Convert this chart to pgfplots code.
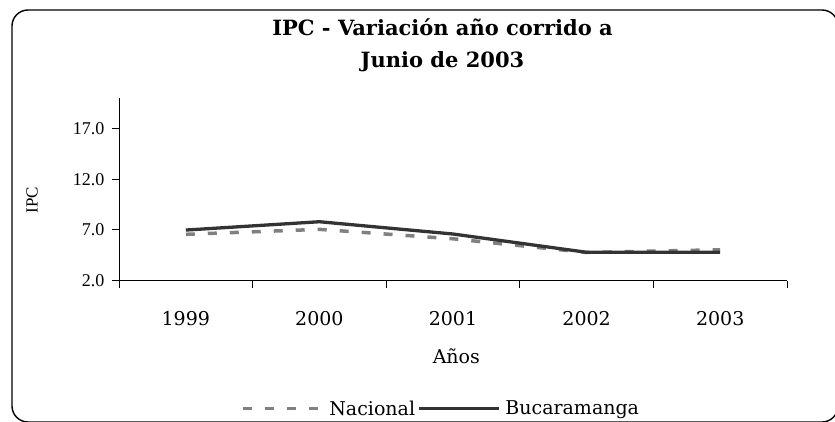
\documentclass[border=0pt]{standalone}
\usepackage{fontspec}
\setmainfont{DejaVu Serif}
\newfontfamily\tnr{Liberation Serif}
\usepackage{pgfplots}
\pgfplotsset{compat=1.18}
\definecolor{nac}{RGB}{128,128,128}
\definecolor{buc}{RGB}{51,51,51}
\pgfplotstableread{
x nac buc
0 6.57 6.99
1 7.06 7.81
2 6.13 6.60
3 4.78 4.80
4 5.05 4.80
}\ipcdata
\begin{document}
\begin{tikzpicture}[x=1pt,y=1pt]
\useasboundingbox (0,0) rectangle (835,421);
\draw[line width=1.4pt, rounded corners=16pt] (12,411) rectangle (838,-1);
\node[font=\fontsize{21}{32}\selectfont\bfseries, align=center] at (442.5,376) {IPC - Variación año corrido a\\Junio de 2003};
\begin{axis}[
  at={(119pt,140.3pt)}, anchor=south west, scale only axis,
  width=668pt, height=182.7pt,
  xmin=-0.5, xmax=4.5, ymin=2, ymax=20,
  axis x line*=bottom, axis y line*=left,
  axis line style={line width=1pt, -},
  xtick={0,...,4}, xticklabels={1999,2000,2001,2002,2003},
  major x tick style={draw=none},
  minor xtick={-0.5,0.5,...,4.5},
  ytick={2,7,12,17},
  tick align=outside, major tick length=7pt, minor tick length=7pt,
  every tick/.style={line width=1pt, black},
  x tick label style={font=\fontsize{19}{19}\selectfont, anchor=center, yshift=-31pt},
  y tick label style={font=\tnr\fontsize{18}{18}\selectfont, xshift=-4pt,
    /pgf/number format/fixed, /pgf/number format/fixed zerofill,
    /pgf/number format/precision=1},
  /pgf/number format/assume math mode=true,
  xlabel={Años},
  xlabel style={font=\fontsize{19}{19}\selectfont, at={(axis description cs:0.505,-0.416)}, anchor=center},
  ylabel={IPC},
  ylabel style={font=\tnr\fontsize{17}{17}\selectfont, at={(axis description cs:-0.130,0.442)}, anchor=center},
  legend style={at={(axis description cs:0.482,-0.70)}, anchor=center, draw=none,
    font=\fontsize{19}{19}\selectfont, inner sep=1pt,
    /tikz/every odd column/.append style={column sep=3pt}},
  legend columns=-1,
  legend image code/.code={\draw[#1] (0pt,0pt) -- (80pt,0pt);},
]
\addplot[nac, line width=3.5pt, dash pattern=on 9pt off 13pt] table[x=x, y=nac] {\ipcdata};
\addlegendentry{Nacional}
\addplot[buc, line width=3.3pt] table[x=x, y=buc] {\ipcdata};
\addlegendentry{Bucaramanga}
\end{axis}
\end{tikzpicture}
\end{document}
